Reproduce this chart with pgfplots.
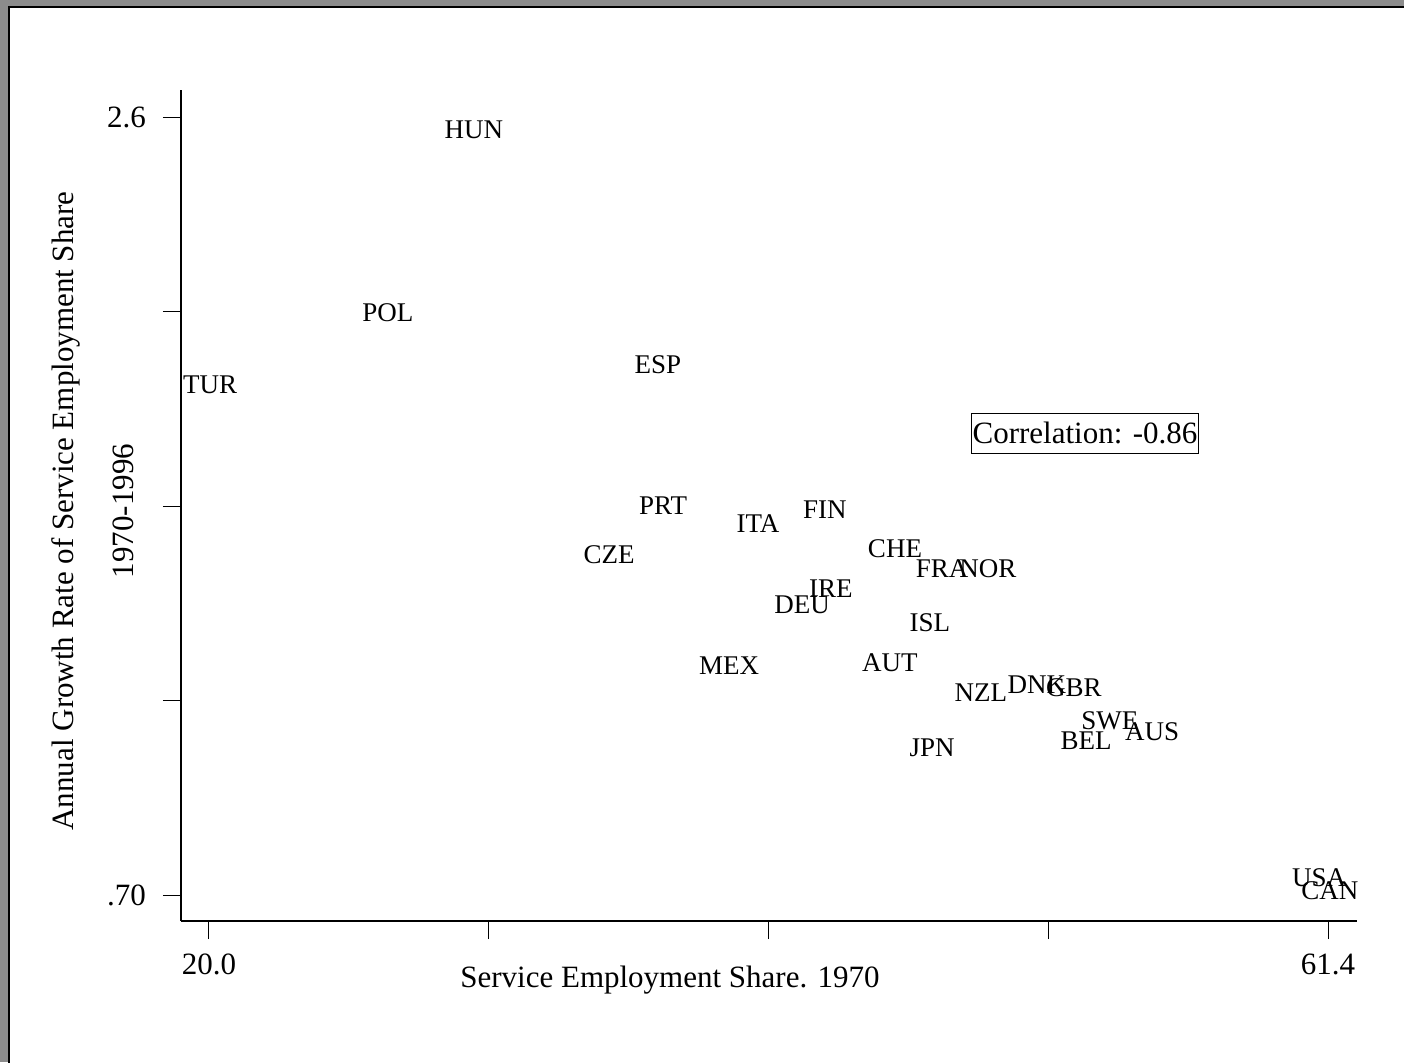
\documentclass[border=0pt]{standalone}
\usepackage{fontspec}
\setmainfont{Liberation Serif}
\usepackage{pgfplots}
\pgfplotsset{compat=1.18}
\usepackage{pgfplotstable}
\definecolor{framegray}{RGB}{140,140,140}

\pgfplotstableread{
x y label
29.80 2.569 HUN
26.62 2.121 POL
20.04 1.946 TUR
36.61 1.994 ESP
36.80 1.650 PRT
40.31 1.606 ITA
42.79 1.640 FIN
34.80 1.530 CZE
45.38 1.545 CHE
47.12 1.496 FRA
48.82 1.496 NOR
43.01 1.447 IRE
41.94 1.408 DEU
46.67 1.364 ISL
39.24 1.259 MEX
45.19 1.267 AUT
46.75 1.059 JPN
48.56 1.193 NZL
50.63 1.213 DNK
52.00 1.206 GBR
53.33 1.125 SWE
54.89 1.098 AUS
52.45 1.076 BEL
61.07 0.742 USA
61.47 0.710 CAN
}\datatable

\begin{document}
\begin{tikzpicture}[x=1pt,y=1pt]
\fill[framegray] (-90.5,-70.5) rectangle (611.5,460.5);
\fill[white] (-85.75,-75) rectangle (620,457);
\draw[line width=1pt] (-85.75,-75) -- (-85.75,457) -- (620,457);
\begin{axis}[
  at={(0pt,0pt)}, anchor=south west,
  scale only axis, width=588pt, height=415.5pt,
  xmin=18.964, xmax=62.473, ymin=0.6365, ymax=2.666,
  axis lines*=left,
  axis line style={line width=0.6pt, black},
  xtick={20,30.35,40.7,51.05,61.4}, xticklabels={20.0,,,,61.4},
  ytick={0.70,1.175,1.65,2.125,2.6}, yticklabels={.70,,,,2.6},
  tick align=outside, major tick length=9pt,
  tick style={black, line width=0.5pt},
  /pgf/number format/assume math mode=true,
  tick label style={font=\fontsize{15.5}{18}\selectfont},
  xticklabel style={yshift=-4pt},
  yticklabel style={xshift=-5pt},
  xlabel={Service Employment Share. 1970},
  xlabel style={at={(axis description cs:0.4158,0)}, anchor=base, yshift=-33pt, font=\fontsize{15.5}{18}\selectfont},
  ylabel={Annual Growth Rate of Service Employment Share\\1970-1996},
  ylabel style={at={(axis description cs:-0.07483,0.4934)}, anchor=center, align=center, font=\fontsize{15.5}{30}\selectfont},
  clip=false,
]
\addplot[only marks, mark=none,
  nodes near coords, point meta=explicit symbolic,
  nodes near coords align={center},
  every node near coord/.style={font=\fontsize{13.5}{16}\selectfont, inner sep=0pt, anchor=center, black}]
  table[x=x, y=y, meta=label]{\datatable};
\node[draw, line width=0.5pt, inner xsep=0.6pt, inner ysep=0pt, minimum height=20pt,
  font=\fontsize{15.5}{18}\selectfont] at (axis cs:52.41,1.828) {Correlation: -0.86};
\end{axis}
\pgfresetboundingbox
\useasboundingbox (-90.5,-70.5) rectangle (611.5,460.5);
\end{tikzpicture}
\end{document}
